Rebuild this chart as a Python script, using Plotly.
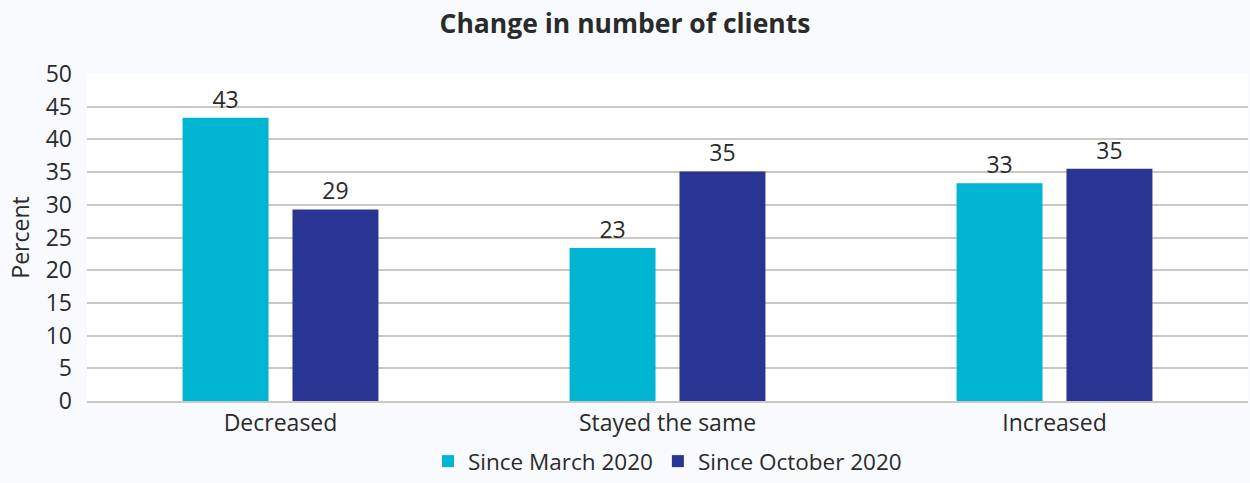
import plotly.graph_objects as go

categories = ["Decreased", "Stayed the same", "Increased"]
march_vals = [43.3, 23.4, 33.3]
october_vals = [29.3, 35.1, 35.5]
march_labels = ["43", "23", "33"]
october_labels = ["29", "35", "35"]
y_ticks = [0, 5, 10, 15, 20, 25, 30, 35, 40, 45, 50]

FONT = "'Open Sans', sans-serif"
TXT = "#2a2a2a"
FS = 23

fig = go.Figure()
fig.add_trace(go.Bar(
    name="Since March 2020", x=categories, y=march_vals,
    text=march_labels, textposition="outside", cliponaxis=False,
    marker=dict(color="#00b5d1", line=dict(width=0)),
    textfont=dict(size=FS, color=TXT, family=FONT),
))
fig.add_trace(go.Bar(
    name="Since October 2020", x=categories, y=october_vals,
    text=october_labels, textposition="outside", cliponaxis=False,
    marker=dict(color="#283593", line=dict(width=0)),
    textfont=dict(size=FS, color=TXT, family=FONT),
))

fig.update_layout(
    width=1250, height=483,
    paper_bgcolor="#f9fafd", plot_bgcolor="#ffffff",
    margin=dict(l=87, r=2, t=74, b=82, autoexpand=False),
    barmode="group", bargap=0.432, bargroupgap=0.218,
    font=dict(family=FONT, color=TXT, size=FS),
    title=dict(text="<b>Change in number of clients</b>", x=0.5, xanchor="center",
               y=0.95, yanchor="middle", font=dict(size=26.5, color=TXT, family=FONT)),
    showlegend=True,
    legend=dict(orientation="h", x=0.5, xanchor="center", yref="container", y=-0.01,
                yanchor="bottom",
                font=dict(size=22.5, color=TXT, family=FONT), bgcolor="rgba(0,0,0,0)",
                itemwidth=30, traceorder="normal"),
)
fig.update_yaxes(range=[0, 50], tickvals=y_ticks, showgrid=True, gridcolor="#cbc7c3",
                 gridwidth=2, zeroline=False, showline=False,
                 title=dict(text="Percent", font=dict(size=FS, color=TXT, family=FONT), standoff=9),
                 tickfont=dict(size=FS, color=TXT, family=FONT), ticks="", ticklen=0,
                 ticklabelstandoff=14)
fig.update_xaxes(showline=True, linecolor="#cbc7c3", linewidth=2, showgrid=False,
                 tickfont=dict(size=FS, color=TXT, family=FONT), ticks="")

fig.write_html("out.html", config={"displayModeBar": False},
               post_script="document.body.style.margin='0';document.body.style.background='#f9fafd';window.dispatchEvent(new Event('resize'));")
